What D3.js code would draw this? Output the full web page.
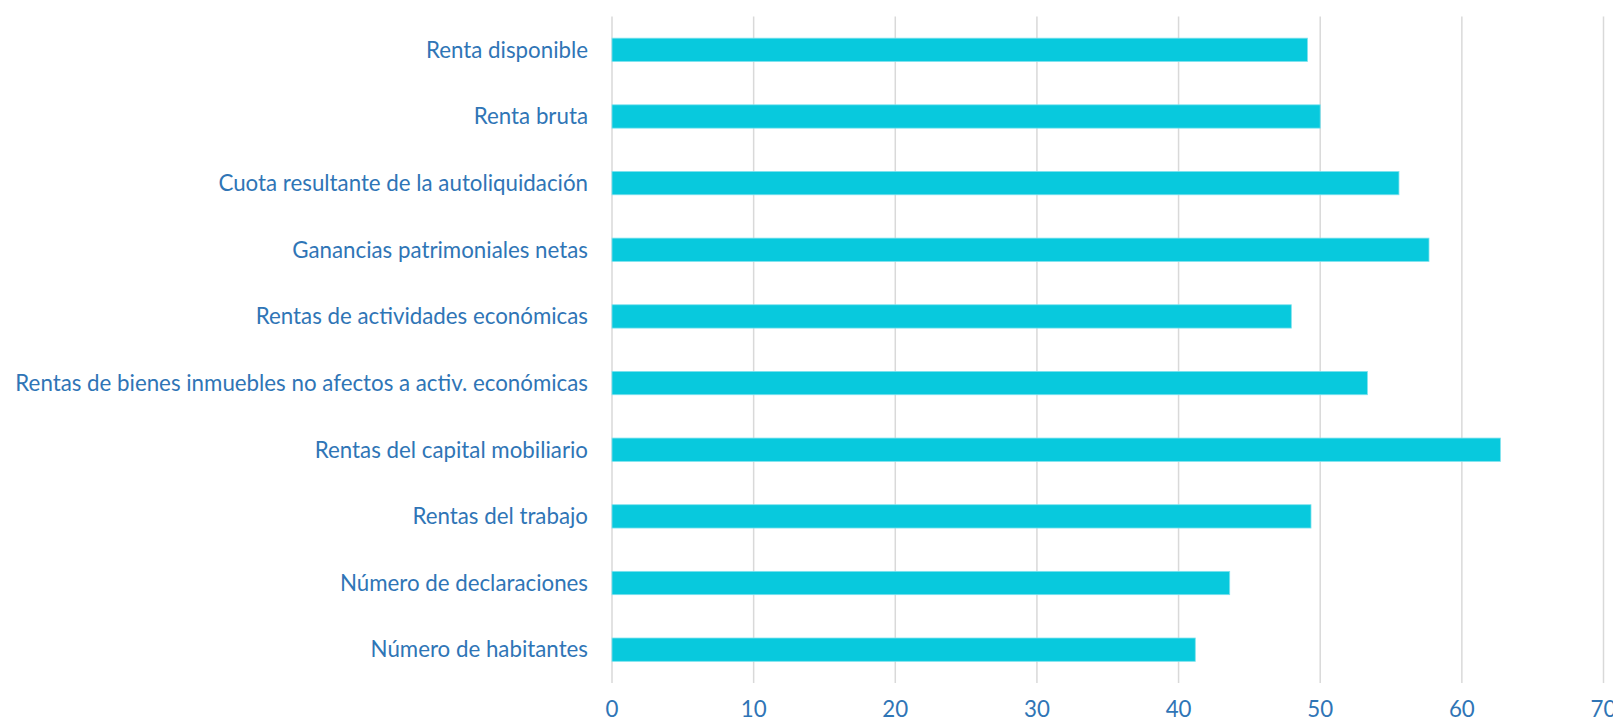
<html>

<head>
  <meta charset="utf-8">
  <title>IRPF indicadores</title>
</head>
<style>
  body {
    margin: 0;
    background: #fff;
  }

  #chart svg {
    display: block;
  }

  .grid line {
    stroke: #d9d9d9;
    stroke-width: 1.5;
  }

  .bar {
    fill: #08c9dd;
    stroke: #7fe2ee;
    stroke-width: 0.8;
  }

  .label,
  .tick-label {
    fill: #2f75b6;
    font-family: Lato, "Noto Sans", sans-serif;
  }
</style>

<body>
  <div id="chart"></div>
</body>

<script src="https://cdn.jsdelivr.net/npm/d3@7"></script>
<script>

  // datos (de arriba a abajo)
  const categories = [
    "Renta disponible",
    "Renta bruta",
    "Cuota resultante de la autoliquidación",
    "Ganancias patrimoniales netas",
    "Rentas de actividades económicas",
    "Rentas de bienes inmuebles no afectos a activ. económicas",
    "Rentas del capital mobiliario",
    "Rentas del trabajo",
    "Número de declaraciones",
    "Número de habitantes"
  ];
  const values = [49.1, 50.0, 55.56, 57.68, 47.96, 53.33, 62.72, 49.35, 43.61, 41.18];
  const ticks = [0, 10, 20, 30, 40, 50, 60, 70];

  let width = 1613, height = 722;
  let plotLeft = 612, plotRight = 1603.5, plotTop = 16.5, plotBottom = 683;

  let x = d3.scaleLinear()
    .domain([0, 70])
    .range([plotLeft, plotRight]);

  let y = d3.scaleBand()
    .domain(categories)
    .range([plotTop, plotBottom])
    .paddingInner(0.65)
    .paddingOuter(0.325);

  let svg = d3.select("#chart").append("svg")
    .attr("width", width)
    .attr("height", height);

  // rejilla vertical
  svg.append("g")
    .attr("class", "grid")
    .selectAll("line")
    .data(ticks)
    .join("line")
    .attr("x1", d => x(d))
    .attr("x2", d => x(d))
    .attr("y1", plotTop)
    .attr("y2", plotBottom);

  svg.append("g")
    .selectAll("rect")
    .data(values)
    .join("rect")
    .attr("class", "bar")
    .attr("x", x(0))
    .attr("y", (d, i) => y(categories[i]))
    .attr("width", d => x(d) - x(0))
    .attr("height", y.bandwidth());

  let labels = svg.append("g")
    .selectAll("text")
    .data(categories)
    .join("text")
    .attr("class", "label")
    .attr("x", plotLeft - 24)
    .attr("y", d => y(d) + y.bandwidth() / 2)
    .attr("dy", "0.35em")
    .attr("text-anchor", "end")
    .style("font-size", "22px")
    .text(d => d);

  // ajustar el tamaño para que la etiqueta más larga ocupe lo mismo que en el original
  let longest = d3.max(labels.nodes(), n => n.getComputedTextLength());
  let fs = 22 * 573 / longest;
  labels.style("font-size", fs + "px");

  svg.append("g")
    .selectAll("text")
    .data(ticks)
    .join("text")
    .attr("class", "tick-label")
    .attr("x", d => x(d))
    .attr("y", 717)
    .attr("text-anchor", "middle")
    .style("font-size", fs + "px")
    .text(d => d);

</script>

</html>
